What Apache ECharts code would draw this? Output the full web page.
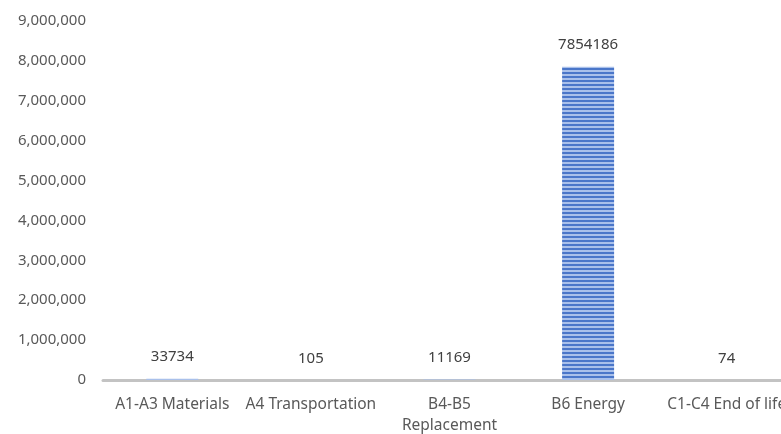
<!DOCTYPE html>
<html><head><meta charset="utf-8">
<script src="https://cdn.jsdelivr.net/npm/echarts@6/dist/echarts.min.js"></script>
<style>html,body{margin:0;padding:0;background:#fff}#c{width:781px;height:434px}</style>
</head><body><div id="c"></div>
<script>
const categories = ['A1-A3 Materials', 'A4 Transportation', 'B4-B5\nReplacement', 'B6 Energy', 'C1-C4 End of life'];
const values = [33734, 105, 11169, 7854186, 74];
const yTicks = { min: 0, max: 9000000, interval: 1000000 };

const pat = document.createElement('canvas');
pat.width = 4; pat.height = 4;
const g = pat.getContext('2d');
g.fillStyle = '#4a76c9'; g.fillRect(0, 0, 4, 2);
g.fillStyle = '#a9c0ea'; g.fillRect(0, 2, 4, 2);

const font = 'Noto Sans';
const chart = echarts.init(document.getElementById('c'));
chart.setOption({
  animation: false,
  grid: { left: 103, right: -15, top: 21, bottom: 54, containLabel: false, outerBoundsMode: 'none' },
  xAxis: {
    type: 'category', data: categories,
    axisLine: { lineStyle: { color: '#c3c3c3', width: 3 } },
    axisTick: { show: false },
    axisLabel: { color: '#595959', fontFamily: font, fontSize: 15.5, margin: 14, lineHeight: 21, interval: 0 }
  },
  yAxis: {
    type: 'value', min: yTicks.min, max: yTicks.max, interval: yTicks.interval,
    splitLine: { show: false },
    axisLine: { show: false }, axisTick: { show: false },
    axisLabel: {
      color: '#595959', fontFamily: font, fontSize: 15, margin: 17,
      formatter: v => v.toLocaleString('en-US')
    }
  },
  series: [{
    type: 'bar', data: values, barWidth: 52,
    itemStyle: { color: { image: pat, repeat: 'repeat' } },
    label: { show: true, position: 'top', distance: 14, color: '#404040', fontFamily: font, fontSize: 15 }
  }]
});
</script></body></html>
